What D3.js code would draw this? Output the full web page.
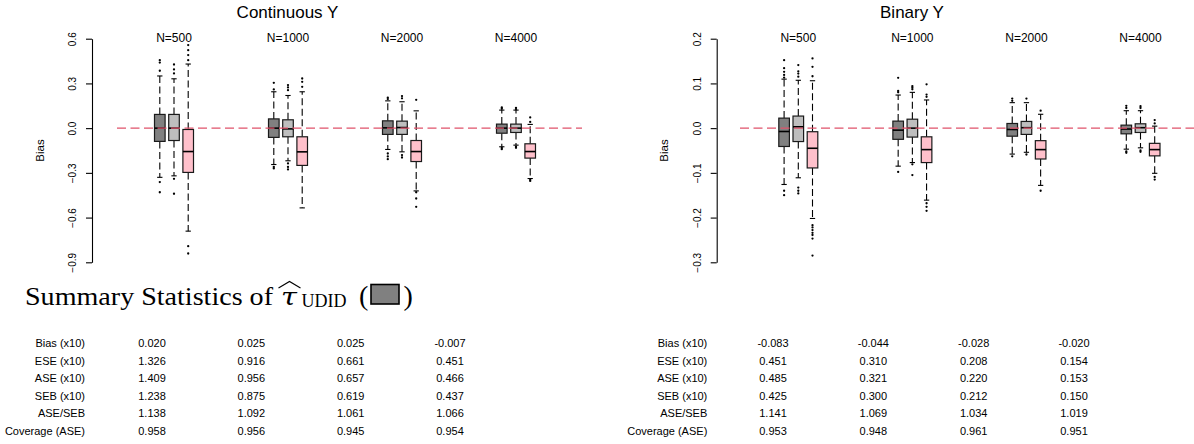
<!DOCTYPE html>
<html><head><meta charset="utf-8">
<script src="https://cdn.jsdelivr.net/npm/d3@7"></script>
<style>
html,body{margin:0;padding:0;background:#fff;}
svg{display:block;}
text{font-family:"Liberation Sans",Arial,Helvetica,sans-serif;fill:#000;}
</style></head>
<body>
<svg id="chart" width="1194" height="444"></svg>
<script>
// ---------------- DATA ----------------
const groups = ["N=500", "N=1000", "N=2000", "N=4000"];
const estimators = ["UDID", "Estimator 2", "Estimator 3"];
const panelTitles = ["Continuous Y", "Binary Y"];
const contTicks = [0.6, 0.3, 0.0, -0.3, -0.6, -0.9];
const binTicks = [0.2, 0.1, 0.0, -0.1, -0.2, -0.3];

// [lower whisker, Q1, median, Q3, upper whisker], order: group-major, estimator-minor
const contBoxes = [
  [-0.330, -0.089, 0.000, 0.092, 0.350],
  [-0.320, -0.083, 0.000, 0.092, 0.331],
  [-0.691, -0.297, -0.157, -0.009, 0.430],
  [-0.244, -0.062, 0.000, 0.062, 0.244],
  [-0.219, -0.058, -0.005, 0.056, 0.219],
  [-0.535, -0.250, -0.159, -0.058, 0.244],
  [-0.143, -0.042, 0.002, 0.049, 0.183],
  [-0.159, -0.042, 0.004, 0.047, 0.177],
  [-0.421, -0.224, -0.157, -0.083, 0.116],
  [-0.125, -0.034, 0.000, 0.027, 0.121],
  [-0.114, -0.029, 0.000, 0.027, 0.121],
  [-0.338, -0.201, -0.157, -0.105, 0.025]
];
const contOutliers = [
  [0.385, 0.440, 0.456, -0.362, -0.430],
  [0.367, 0.394, 0.427, -0.340, -0.440],
  [0.456, 0.490, 0.523, 0.557, -0.792, -0.841],
  [0.260, 0.304, -0.260, -0.270],
  [0.255, 0.273, 0.289, -0.237, -0.260, -0.277],
  [0.277, 0.311, 0.333],
  [0.195, 0.205, -0.170, -0.190, -0.208],
  [0.200, 0.215, -0.181, -0.197],
  [0.190, -0.430, -0.472, -0.528],
  [0.130, 0.139, -0.133, -0.141],
  [0.128, 0.136, -0.124, -0.132],
  [0.042, 0.072, -0.346, -0.354]
];
const binBoxes = [
  [-0.126, -0.041, -0.0075, 0.0224, 0.1096],
  [-0.111, -0.030, 0.003, 0.027, 0.107],
  [-0.202, -0.089, -0.045, -0.008, 0.106],
  [-0.085, -0.025, -0.0045, 0.0157, 0.074],
  [-0.077, -0.020, 0.000, 0.020, 0.080],
  [-0.161, -0.077, -0.048, -0.0194, 0.063],
  [-0.058, -0.018, -0.003, 0.0104, 0.057],
  [-0.054, -0.014, 0.001, 0.015, 0.057],
  [-0.128, -0.069, -0.048, -0.028, 0.031],
  [-0.047, -0.0127, -0.002, 0.0067, 0.039],
  [-0.044, -0.0097, 0.001, 0.0097, 0.039],
  [-0.101, -0.062, -0.048, -0.034, 0.0045]
];
const binOutliers = [
  [0.113, 0.119, 0.126, 0.134, 0.152, -0.140, -0.150],
  [0.115, 0.122, 0.127, 0.141, -0.133, -0.140, -0.146],
  [0.116, 0.137, 0.156, -0.217, -0.222, -0.228, -0.234, -0.239, -0.247, -0.285],
  [0.080, 0.083, 0.1125, -0.098],
  [0.087, 0.091, 0.094, -0.081, -0.105],
  [0.070, 0.075, 0.098, -0.168, -0.176, -0.185],
  [0.061, 0.066, -0.063],
  [0.066, -0.059],
  [0.039, -0.140],
  [0.045, 0.050, -0.052, -0.055],
  [0.045, 0.049, -0.050, -0.053],
  [0.0105, 0.018, -0.109, -0.115]
];

const rowLabels = ["Bias (x10)", "ESE (x10)", "ASE (x10)", "SEB (x10)", "ASE/SEB", "Coverage (ASE)"];
const contTable = [
  [0.020, 0.025, 0.025, -0.007],
  [1.326, 0.916, 0.661, 0.451],
  [1.409, 0.956, 0.657, 0.466],
  [1.238, 0.875, 0.619, 0.437],
  [1.138, 1.092, 1.061, 1.066],
  [0.958, 0.956, 0.945, 0.954]
];
const binTable = [
  [-0.083, -0.044, -0.028, -0.020],
  [0.451, 0.310, 0.208, 0.154],
  [0.485, 0.321, 0.220, 0.153],
  [0.425, 0.300, 0.212, 0.150],
  [1.141, 1.069, 1.034, 1.019],
  [0.953, 0.948, 0.961, 0.951]
];

// ---------------- STYLE ----------------
const fills = ["#808080", "#bebebe", "#ffc0cb"];
const refColor = "#DF536B";

const svg = d3.select("#chart");

const panels = [
  {title: panelTitles[0], ticks: contTicks, boxes: contBoxes, outliers: contOutliers, table: contTable,
   axisX: 92, titleX: 287.5, groupRange: [174, 516], refRange: [117, 582],
   tableLabelX: 85, tableCols: [152, 450]},
  {title: panelTitles[1], ticks: binTicks, boxes: binBoxes, outliers: binOutliers, table: binTable,
   axisX: 716.7, titleX: 912, groupRange: [798.3, 1140.5], refRange: [740, 1200],
   tableLabelX: 707.3, tableCols: [773, 1074]}
];

panels.forEach(p => {
  const g = svg.append("g");
  const y = d3.scaleLinear().domain(d3.extent(p.ticks)).range([262.3, 38.7]);
  const xg = d3.scalePoint().domain(groups).range(p.groupRange);
  const xe = d3.scalePoint().domain(estimators).range([-14.2, 14.2]);
  const bw = 10.6;

  // title
  g.append("text").attr("x", p.titleX).attr("y", 17.5).attr("text-anchor", "middle")
    .style("font-size", "17px").text(p.title);

  // axis
  const ax = g.append("g").attr("transform", `translate(${p.axisX},0)`)
    .call(d3.axisLeft(y).tickValues(p.ticks).tickSize(6).tickSizeOuter(0).tickPadding(4)
      .tickFormat(d3.format(".1f")));
  ax.select(".domain").attr("stroke", "#000").attr("stroke-width", 1.1);
  ax.selectAll(".tick line").attr("stroke", "#000").attr("stroke-width", 1.1);
  ax.selectAll(".tick text")
    .attr("transform", "translate(-16,0) rotate(-90)")
    .attr("x", 0).attr("y", 0).attr("dy", "0")
    .attr("text-anchor", "middle").attr("fill", "#000")
    .style("font-size", "10px").style("font-family", "'Liberation Sans',Arial,sans-serif");

  g.append("text")
    .attr("transform", `translate(${p.axisX - 52.5},${(y.range()[0] + y.range()[1]) / 2}) rotate(-90)`)
    .attr("text-anchor", "middle").attr("dy", "0.35em")
    .style("font-size", "11.5px").text("Bias");

  // group labels
  g.selectAll(".nlab").data(groups).join("text")
    .attr("x", d => xg(d)).attr("y", 41.5).attr("text-anchor", "middle")
    .style("font-size", "12px").text(d => d);

  // boxplots
  const items = [];
  groups.forEach((gr, gi) => estimators.forEach((es, ei) => {
    const idx = gi * estimators.length + ei;
    items.push({gr, es, ei, s: p.boxes[idx], out: p.outliers[idx]});
  }));
  const bx = g.selectAll(".bx").data(items).join("g")
    .attr("transform", d => `translate(${xg(d.gr) + xe(d.es)},0)`);

  // whiskers (dashed)
  bx.append("line").attr("x1", 0).attr("x2", 0)
    .attr("y1", d => y(d.s[3])).attr("y2", d => y(d.s[4]))
    .attr("stroke", "#000").attr("stroke-width", 1.1).attr("stroke-dasharray", "7,3.5");
  bx.append("line").attr("x1", 0).attr("x2", 0)
    .attr("y1", d => y(d.s[1])).attr("y2", d => y(d.s[0]))
    .attr("stroke", "#000").attr("stroke-width", 1.1).attr("stroke-dasharray", "7,3.5");
  // caps
  bx.append("line").attr("x1", -bw / 4).attr("x2", bw / 4)
    .attr("y1", d => y(d.s[4])).attr("y2", d => y(d.s[4]))
    .attr("stroke", "#000").attr("stroke-width", 1.1);
  bx.append("line").attr("x1", -bw / 4).attr("x2", bw / 4)
    .attr("y1", d => y(d.s[0])).attr("y2", d => y(d.s[0]))
    .attr("stroke", "#000").attr("stroke-width", 1.1);
  // box
  bx.append("rect").attr("x", -bw / 2).attr("width", bw)
    .attr("y", d => y(d.s[3])).attr("height", d => y(d.s[1]) - y(d.s[3]))
    .attr("fill", d => fills[d.ei]).attr("stroke", "#1a1a1a").attr("stroke-width", 1.2);
  // median
  bx.append("line").attr("x1", -bw / 2).attr("x2", bw / 2)
    .attr("y1", d => y(d.s[2])).attr("y2", d => y(d.s[2]))
    .attr("stroke", "#000").attr("stroke-width", 1.6);
  // outliers
  bx.selectAll("circle").data(d => d.out).join("circle")
    .attr("cx", 0).attr("cy", v => y(v)).attr("r", 1.15).attr("fill", "#000");

  // reference line at 0
  g.append("line").attr("x1", p.refRange[0]).attr("x2", p.refRange[1])
    .attr("y1", y(0)).attr("y2", y(0))
    .attr("stroke", refColor).attr("stroke-width", 1.4).attr("stroke-dasharray", "9,4.5");

  // table
  const ry = d3.scalePoint().domain(rowLabels).range([347.3, 434.7]);
  const cx = d3.scalePoint().domain(groups).range(p.tableCols);
  g.selectAll(".rl").data(rowLabels).join("text")
    .attr("x", p.tableLabelX).attr("y", d => ry(d)).attr("text-anchor", "end")
    .style("font-size", "11px").text(d => d);
  rowLabels.forEach((rl, ri) => {
    g.selectAll(null).data(p.table[ri]).join("text")
      .attr("x", (v, ci) => cx(groups[ci])).attr("y", ry(rl)).attr("text-anchor", "middle")
      .style("font-size", "11px").text(v => v.toFixed(3));
  });
});

// Summary statistics heading
const serif = "'Liberation Serif','Times New Roman',serif";
const hd = svg.append("g");
hd.append("text").attr("x", 25).attr("y", 304.5).attr("textLength", 248).attr("lengthAdjust", "spacingAndGlyphs")
  .style("font-family", serif).style("font-size", "26px").text("Summary Statistics of");
hd.append("text").attr("transform", "translate(281,304.5) scale(1.2,1)")
  .style("font-family", "'DejaVu Serif',serif").style("font-style", "italic").style("font-size", "24px").text("τ");
hd.append("path").attr("d", "M278.5,288 L289.5,281.5 L300.5,288").attr("fill", "none")
  .attr("stroke", "#000").attr("stroke-width", 1.1);
hd.append("text").attr("x", 301.5).attr("y", 306.5).attr("textLength", 45).attr("lengthAdjust", "spacingAndGlyphs")
  .style("font-family", serif).style("font-size", "18px").text("UDID");
hd.append("text").attr("x", 359).attr("y", 304.5)
  .style("font-family", serif).style("font-size", "28px").text("(");
hd.append("rect").attr("x", 371).attr("y", 284.5).attr("width", 28).attr("height", 19.5)
  .attr("fill", fills[0]).attr("stroke", "#000").attr("stroke-width", 1.6);
hd.append("text").attr("x", 403.5).attr("y", 304.5)
  .style("font-family", serif).style("font-size", "28px").text(")");
</script>
</body></html>
